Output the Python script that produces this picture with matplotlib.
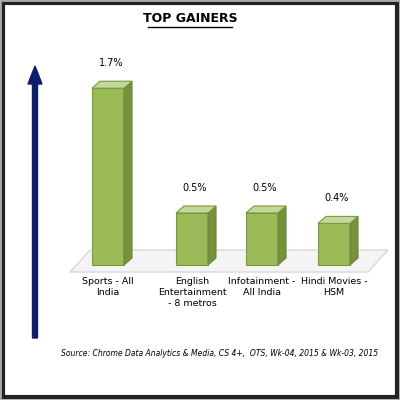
import matplotlib
matplotlib.use("Agg")
import matplotlib.pyplot as plt
from matplotlib.patches import Polygon, Rectangle, FancyArrow

categories = ["Sports - All\nIndia", "English\nEntertainment\n- 8 metros", "Infotainment -\nAll India", "Hindi Movies -\nHSM"]
values = [1.7, 0.5, 0.5, 0.4]
labels = ["1.7%", "0.5%", "0.5%", "0.4%"]

fig = plt.figure(figsize=(4, 4), dpi=100)
ax = fig.add_axes([0, 0, 1, 1])
ax.set_xlim(0, 400); ax.set_ylim(0, 400); ax.axis("off")

# frame
ax.add_patch(Rectangle((3, 3), 394, 394, fill=False, ec="#222222", lw=3))
ax.add_patch(Rectangle((0, 0), 400, 400, fill=False, ec="#aaaaaa", lw=2))

ax.text(190, 381, "TOP GAINERS", ha="center", va="center", fontsize=9, fontweight="bold")
ax.plot([148, 232], [373, 373], color="black", lw=1)

# arrow
ax.add_patch(FancyArrow(35, 62, 0, 272, width=5, head_width=14, head_length=18, color="#0d1f6b", length_includes_head=True))

# floor
ax.add_patch(Polygon([(70, 128), (368, 128), (388, 150), (90, 150)], closed=True, fc="#f4f4f4", ec="#d8d8d8", lw=1))

base = 135
scale = 104
xs = [92, 176, 246, 318]
w = 32
dx, dy = 8, 7
for x, v, lab in zip(xs, values, labels):
    h = v * scale
    ax.bar(x, h, width=w, bottom=base, align="edge", color="#9bbb59", ec="#7a9a3a", lw=0.8, zorder=3)
    ax.add_patch(Polygon([(x + w, base), (x + w + dx, base + dy), (x + w + dx, base + h + dy), (x + w, base + h)],
                         fc="#76923c", ec="#6a8535", lw=0.8, zorder=3))
    ax.add_patch(Polygon([(x, base + h), (x + dx, base + h + dy), (x + w + dx, base + h + dy), (x + w, base + h)],
                         fc="#c3d69b", ec="#7a9a3a", lw=0.8, zorder=3))
    ax.text(x + w / 2 + 3, base + h + dy + 18, lab, ha="center", va="center", fontsize=7)

for x, c in zip(xs, categories):
    ax.text(x + w / 2, 123, c, ha="center", va="top", fontsize=6.8, linespacing=1.3)

ax.text(220, 46, "Source: Chrome Data Analytics & Media, CS 4+,  OTS, Wk-04, 2015 & Wk-03, 2015",
        ha="center", va="center", fontsize=5.5, style="italic")

fig.savefig("out.png", dpi=100)
